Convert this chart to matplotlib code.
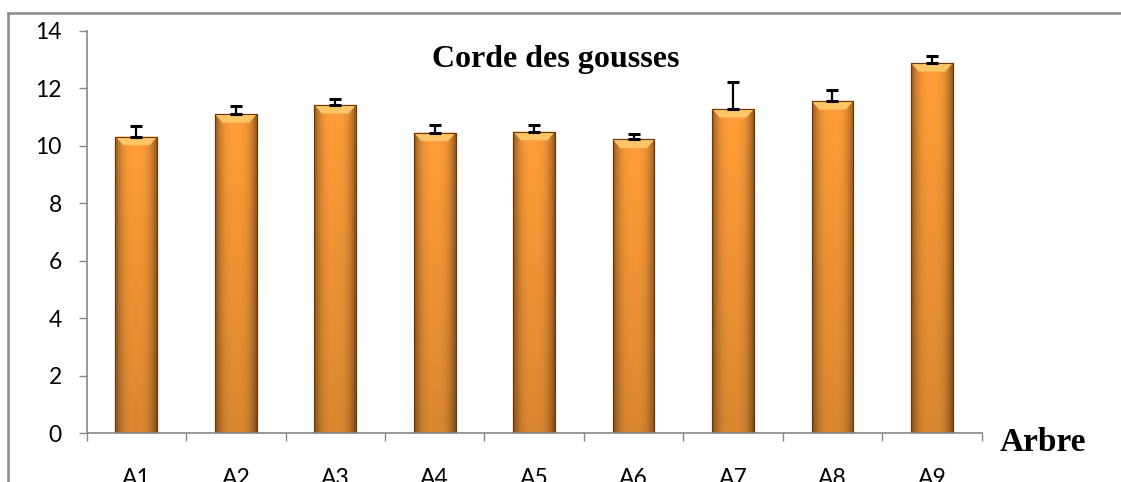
import matplotlib
matplotlib.use("Agg")
import matplotlib.pyplot as plt
from matplotlib.lines import Line2D
from matplotlib.patches import Polygon
import numpy as np

# data
arbres = ["A1", "A2", "A3", "A4", "A5", "A6", "A7", "A8", "A9"]
corde = [10.32, 11.10, 11.42, 10.46, 10.49, 10.22, 11.28, 11.56, 12.88]
erreur = [0.35, 0.27, 0.19, 0.27, 0.22, 0.20, 0.92, 0.37, 0.23]
yticks = [0, 2, 4, 6, 8, 10, 12, 14]

tick_font = "Lato"
serif_font = "Liberation Serif"
axis_gray = "#878787"

fig = plt.figure(figsize=(11.21, 4.82), dpi=100)
ax = fig.add_axes([0.0773, 0.101, 0.7984, 0.8353])

x = np.arange(len(arbres))
bar_w = 0.42
bars = ax.bar(x, corde, width=bar_w, color="#f3912f", edgecolor="#7a3d0a",
              linewidth=0.8, zorder=2)

# shading inside each bar: darker at the sides and bottom, lighter in the middle
u = np.linspace(-1, 1, 60)
v = np.linspace(0, 1, 200)
side = 1 - 0.45 * np.abs(u) ** 3
height_fac = 0.85 + 0.15 * v
shade = height_fac[:, None] * side[None, :]
base = np.array([0.985, 0.60, 0.20])
img = np.clip(shade[..., None] * base[None, None, :] + 0.02, 0, 1)

for b in bars:
    x0, w, h = b.get_x(), b.get_width(), b.get_height()
    im = ax.imshow(img, extent=[x0, x0 + w, 0, h], origin="lower",
                   aspect="auto", zorder=2.1, interpolation="bilinear")
    im.set_clip_path(b)
    # top bevel highlight
    bev = 0.3
    inset = w * 0.18
    ax.add_patch(Polygon([[x0, h], [x0 + w, h], [x0 + w - inset, h - bev],
                          [x0 + inset, h - bev]], closed=True,
                         facecolor="#fcc567", edgecolor="none", zorder=2.2))
    # redraw outline on top
    ax.add_patch(plt.Rectangle((x0, 0), w, h, fill=False, edgecolor="#6e3608",
                               linewidth=0.8, zorder=2.3))

ax.errorbar(x, corde, yerr=[np.zeros(len(erreur)), erreur], fmt="none",
            ecolor="black", elinewidth=1.6, capsize=4, capthick=2.2, zorder=3)

ax.set_xlim(-0.5, len(arbres) - 0.5)
ax.set_ylim(0, 14)
ax.set_yticks(yticks)
ax.set_yticklabels([str(t) for t in yticks], fontfamily=tick_font, fontsize=16.5)
ax.set_xticks(x)
ax.set_xticklabels(arbres, fontfamily=tick_font, fontsize=16.5)
ax.set_xticks(np.arange(-0.5, len(arbres)), minor=True)

ax.tick_params(axis="x", which="major", length=0, pad=25)
ax.tick_params(axis="x", which="minor", length=6, width=1, color=axis_gray,
               direction="out")
ax.tick_params(axis="y", length=6, width=1, color=axis_gray, pad=12)

for side_name in ["top", "right"]:
    ax.spines[side_name].set_visible(False)
for side_name in ["left", "bottom"]:
    ax.spines[side_name].set_color(axis_gray)
    ax.spines[side_name].set_linewidth(1.2)

fig.text(0.496, 0.876, "Corde des gousses", ha="center", va="center",
         fontfamily=serif_font, fontweight="bold", fontsize=23)
fig.text(0.892, 0.082, "Arbre", ha="left", va="center",
         fontfamily=serif_font, fontweight="bold", fontsize=24)

# outer chart frame (only left and top edges are visible)
fx = 8 / 1121
fy = 1 - 12.5 / 482
fig.add_artist(Line2D([fx, fx], [0, fy], transform=fig.transFigure,
                      color="#8a8a8a", linewidth=1.8))
fig.add_artist(Line2D([fx, 1], [fy, fy], transform=fig.transFigure,
                      color="#8a8a8a", linewidth=1.8))

fig.savefig("out.png", dpi=100)
